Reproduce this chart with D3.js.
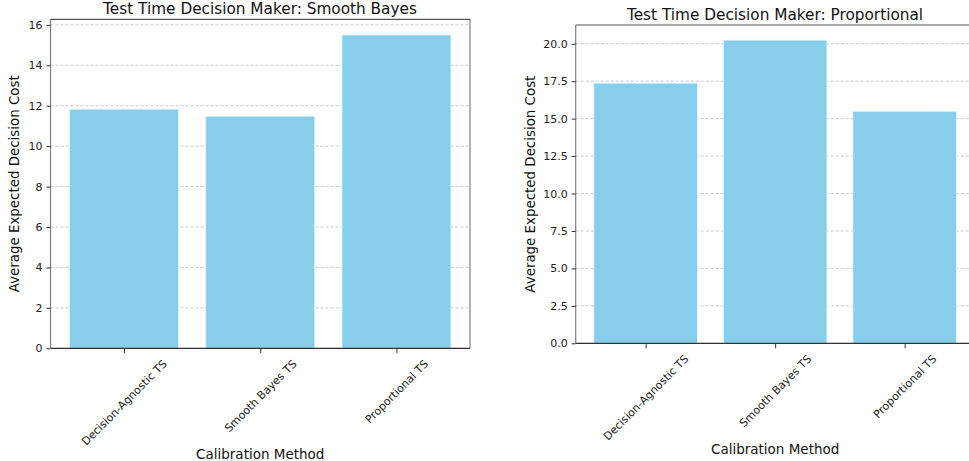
<!DOCTYPE html>
<html>
<head>
<meta charset="utf-8">
<script src="https://cdn.jsdelivr.net/npm/d3@7"></script>
<style>
  html, body { margin: 0; padding: 0; background: #fff; }
  svg { display: block; font-family: "DejaVu Sans", sans-serif; }
</style>
</head>
<body>
<svg id="chart" width="969" height="461"></svg>
<script>
(function () {
  'use strict';

  var methods = ['Decision-Agnostic TS', 'Smooth Bayes TS', 'Proportional TS'];
  var costSmoothBayes = [11.83, 11.48, 15.50];
  var costProportional = [17.37, 20.24, 15.49];
  var ticksSmoothBayes = [0, 2, 4, 6, 8, 10, 12, 14, 16];
  var ticksProportional = [0, 2.5, 5, 7.5, 10, 12.5, 15, 17.5, 20];

  var svg = d3.select('#chart');

  function drawPanel(opts) {
    var w = opts.right - opts.left;
    var h = opts.bottom - opts.top;
    var g = svg.append('g').attr('transform', 'translate(' + opts.left + ',' + opts.top + ')');

    // matplotlib-style: bar width 0.8, 5% margins
    var x = d3.scaleLinear().domain([-0.54, 2.54]).range([0, w]);
    var ymax = d3.max(opts.values) * 1.05;
    var y = d3.scaleLinear().domain([0, ymax]).range([h, 0]);

    // grid
    g.append('g').selectAll('line')
      .data(opts.ticks).enter().append('line')
      .attr('x1', 0).attr('x2', w)
      .attr('y1', function (d) { return y(d); })
      .attr('y2', function (d) { return y(d); })
      .attr('stroke', '#b0b0b0')
      .attr('stroke-width', 0.8)
      .attr('stroke-dasharray', '3,2')
      .attr('opacity', 0.8);

    g.selectAll('.bar')
      .data(opts.values).enter().append('rect')
      .attr('class', 'bar')
      .attr('x', function (d, i) { return x(i - 0.4); })
      .attr('width', x(0.8) - x(0))
      .attr('y', function (d) { return y(d); })
      .attr('height', function (d) { return h - y(d); })
      .attr('fill', '#87ceeb')
      .attr('stroke', '#e8f6fc')
      .attr('stroke-width', 0.8);

    // spines
    g.append('line').attr('x1', 0).attr('x2', 0).attr('y1', 0).attr('y2', h).attr('stroke', '#808080').attr('stroke-width', 1.2);
    g.append('line').attr('x1', w).attr('x2', w).attr('y1', 0).attr('y2', h).attr('stroke', '#808080').attr('stroke-width', 1.2);
    g.append('line').attr('x1', 0).attr('x2', w).attr('y1', 0).attr('y2', 0).attr('stroke', '#555').attr('stroke-width', 1.2);
    g.append('line').attr('x1', 0).attr('x2', w).attr('y1', h).attr('y2', h).attr('stroke', '#333').attr('stroke-width', 1.2);

    // y axis
    var yAxis = d3.axisLeft(y).tickValues(opts.ticks).tickSize(4).tickPadding(4)
      .tickFormat(opts.fmt);
    var ya = g.append('g').call(yAxis);
    ya.select('.domain').remove();
    ya.selectAll('line').attr('stroke', '#333');
    ya.selectAll('text').attr('fill', '#222').style('font-size', '11px').style('font-family', '"DejaVu Sans", sans-serif');

    // x axis: labels rotated 45deg, centred on the tick (ha='center')
    var xAxis = d3.axisBottom(x).tickValues([0, 1, 2]).tickSize(5).tickFormat('');
    var xa = g.append('g').attr('transform', 'translate(0,' + h + ')').call(xAxis);
    xa.select('.domain').remove();
    xa.selectAll('line').attr('stroke', '#333');
    xa.selectAll('.tick').append('text')
      .attr('text-anchor', 'middle')
      .attr('dominant-baseline', 'central')
      .attr('fill', '#222')
      .style('font-family', '"DejaVu Sans", sans-serif')
      .style('font-size', '11px')
      .text(function (d) { return methods[d]; })
      .attr('transform', function () {
        var L = this.getComputedTextLength();
        var half = (L + 11) * Math.SQRT1_2 / 2;
        return 'translate(0,' + (10 + half) + ') rotate(-45)';
      });

    // titles and labels
    svg.append('text')
      .attr('x', opts.titleX)
      .attr('y', opts.top - 5)
      .attr('text-anchor', 'middle')
      .attr('fill', '#111')
      .style('font-size', '15.3px')
      .text(opts.title);

    svg.append('text')
      .attr('transform', 'translate(' + opts.yLabelX + ',' + (opts.top + h / 2) + ') rotate(-90)')
      .attr('text-anchor', 'middle')
      .attr('fill', '#111')
      .style('font-size', '13.4px')
      .text('Average Expected Decision Cost');

    svg.append('text')
      .attr('x', opts.left + x(1))
      .attr('y', opts.xLabelY)
      .attr('text-anchor', 'middle')
      .attr('fill', '#111')
      .style('font-size', '13.5px')
      .text('Calibration Method');
  }

  drawPanel({
    left: 50.5, right: 470, top: 19.3, bottom: 348.3,
    values: costSmoothBayes, ticks: ticksSmoothBayes,
    fmt: d3.format('d'),
    title: 'Test Time Decision Maker: Smooth Bayes', titleX: 260,
    yLabelX: 19, xLabelY: 459
  });

  drawPanel({
    left: 575.7, right: 974.6, top: 25, bottom: 343.3,
    values: costProportional, ticks: ticksProportional,
    fmt: d3.format('.1f'),
    title: 'Test Time Decision Maker: Proportional', titleX: 775,
    yLabelX: 535, xLabelY: 454
  });
})();
</script>
</body>
</html>
